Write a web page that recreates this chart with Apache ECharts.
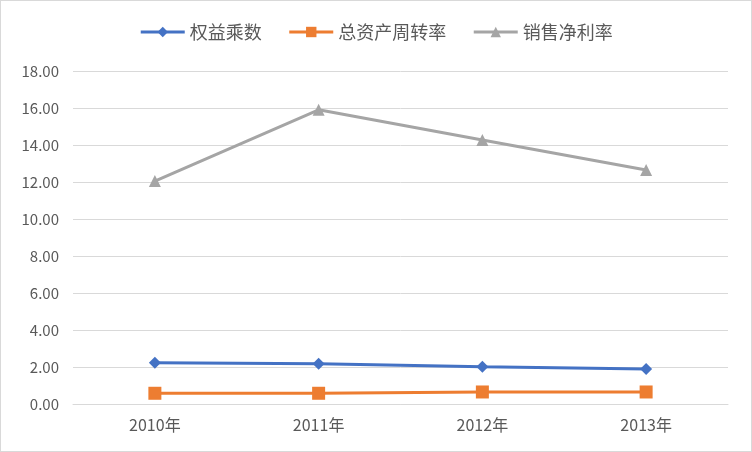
<!DOCTYPE html>
<html>
<head>
<meta charset="utf-8">
<script src="https://cdn.jsdelivr.net/npm/echarts@6/dist/echarts.min.js"></script>
<style>
    html, body { margin: 0; padding: 0; background: #fff; }
    #chart { width: 750px; height: 450px; border: 1px solid #d9d9d9; }
</style>
</head>
<body>
<div id="chart"></div>
<script>
const years = ['2010年', '2011年', '2012年', '2013年'];
const equityMultiplier = [2.23, 2.18, 2.02, 1.89];
const assetTurnover = [0.58, 0.58, 0.65, 0.65];
const netProfitMargin = [12.05, 15.90, 14.27, 12.65];

const font = '"Microsoft YaHei", "Noto Sans CJK SC", sans-serif';

function lineSeries(name, data, color, symbol, size) {
    return {
        name: name,
        type: 'line',
        data: data,
        symbol: symbol,
        symbolSize: size,
        itemStyle: { color: color },
        lineStyle: { color: color, width: 3 },
        animation: false
    };
}

const chart = echarts.init(document.getElementById('chart'));
chart.setOption({
    textStyle: { fontFamily: font },
    legend: {
        top: 17,
        left: 'center',
        itemWidth: 44,
        itemHeight: 13,
        itemGap: 26,
        lineStyle: { width: 3 },
        textStyle: { fontSize: 18, color: '#595959', fontFamily: font },
        data: ['权益乘数', '总资产周转率', '销售净利率']
    },
    grid: {
        left: 72,
        right: 23,
        top: 70,
        bottom: 47
    },
    xAxis: {
        type: 'category',
        data: years,
        boundaryGap: true,
        axisLine: { lineStyle: { color: '#d9d9d9', width: 1 } },
        axisTick: { show: false },
        axisLabel: { fontSize: 16, color: '#595959', margin: 13, fontFamily: font }
    },
    yAxis: {
        type: 'value',
        min: 0,
        max: 18,
        interval: 2,
        axisLine: { show: false },
        axisTick: { show: false },
        splitLine: { lineStyle: { color: '#d9d9d9', width: 1 } },
        axisLabel: {
            fontSize: 15,
            color: '#595959',
            margin: 14,
            fontFamily: font,
            formatter: v => v.toFixed(2)
        }
    },
    series: [
        lineSeries('权益乘数', equityMultiplier, '#4472c4', 'diamond', 12),
        lineSeries('总资产周转率', assetTurnover, '#ed7d31', 'rect', 13),
        lineSeries('销售净利率', netProfitMargin, '#a5a5a5', 'triangle', 12)
    ]
});
</script>
</body>
</html>
